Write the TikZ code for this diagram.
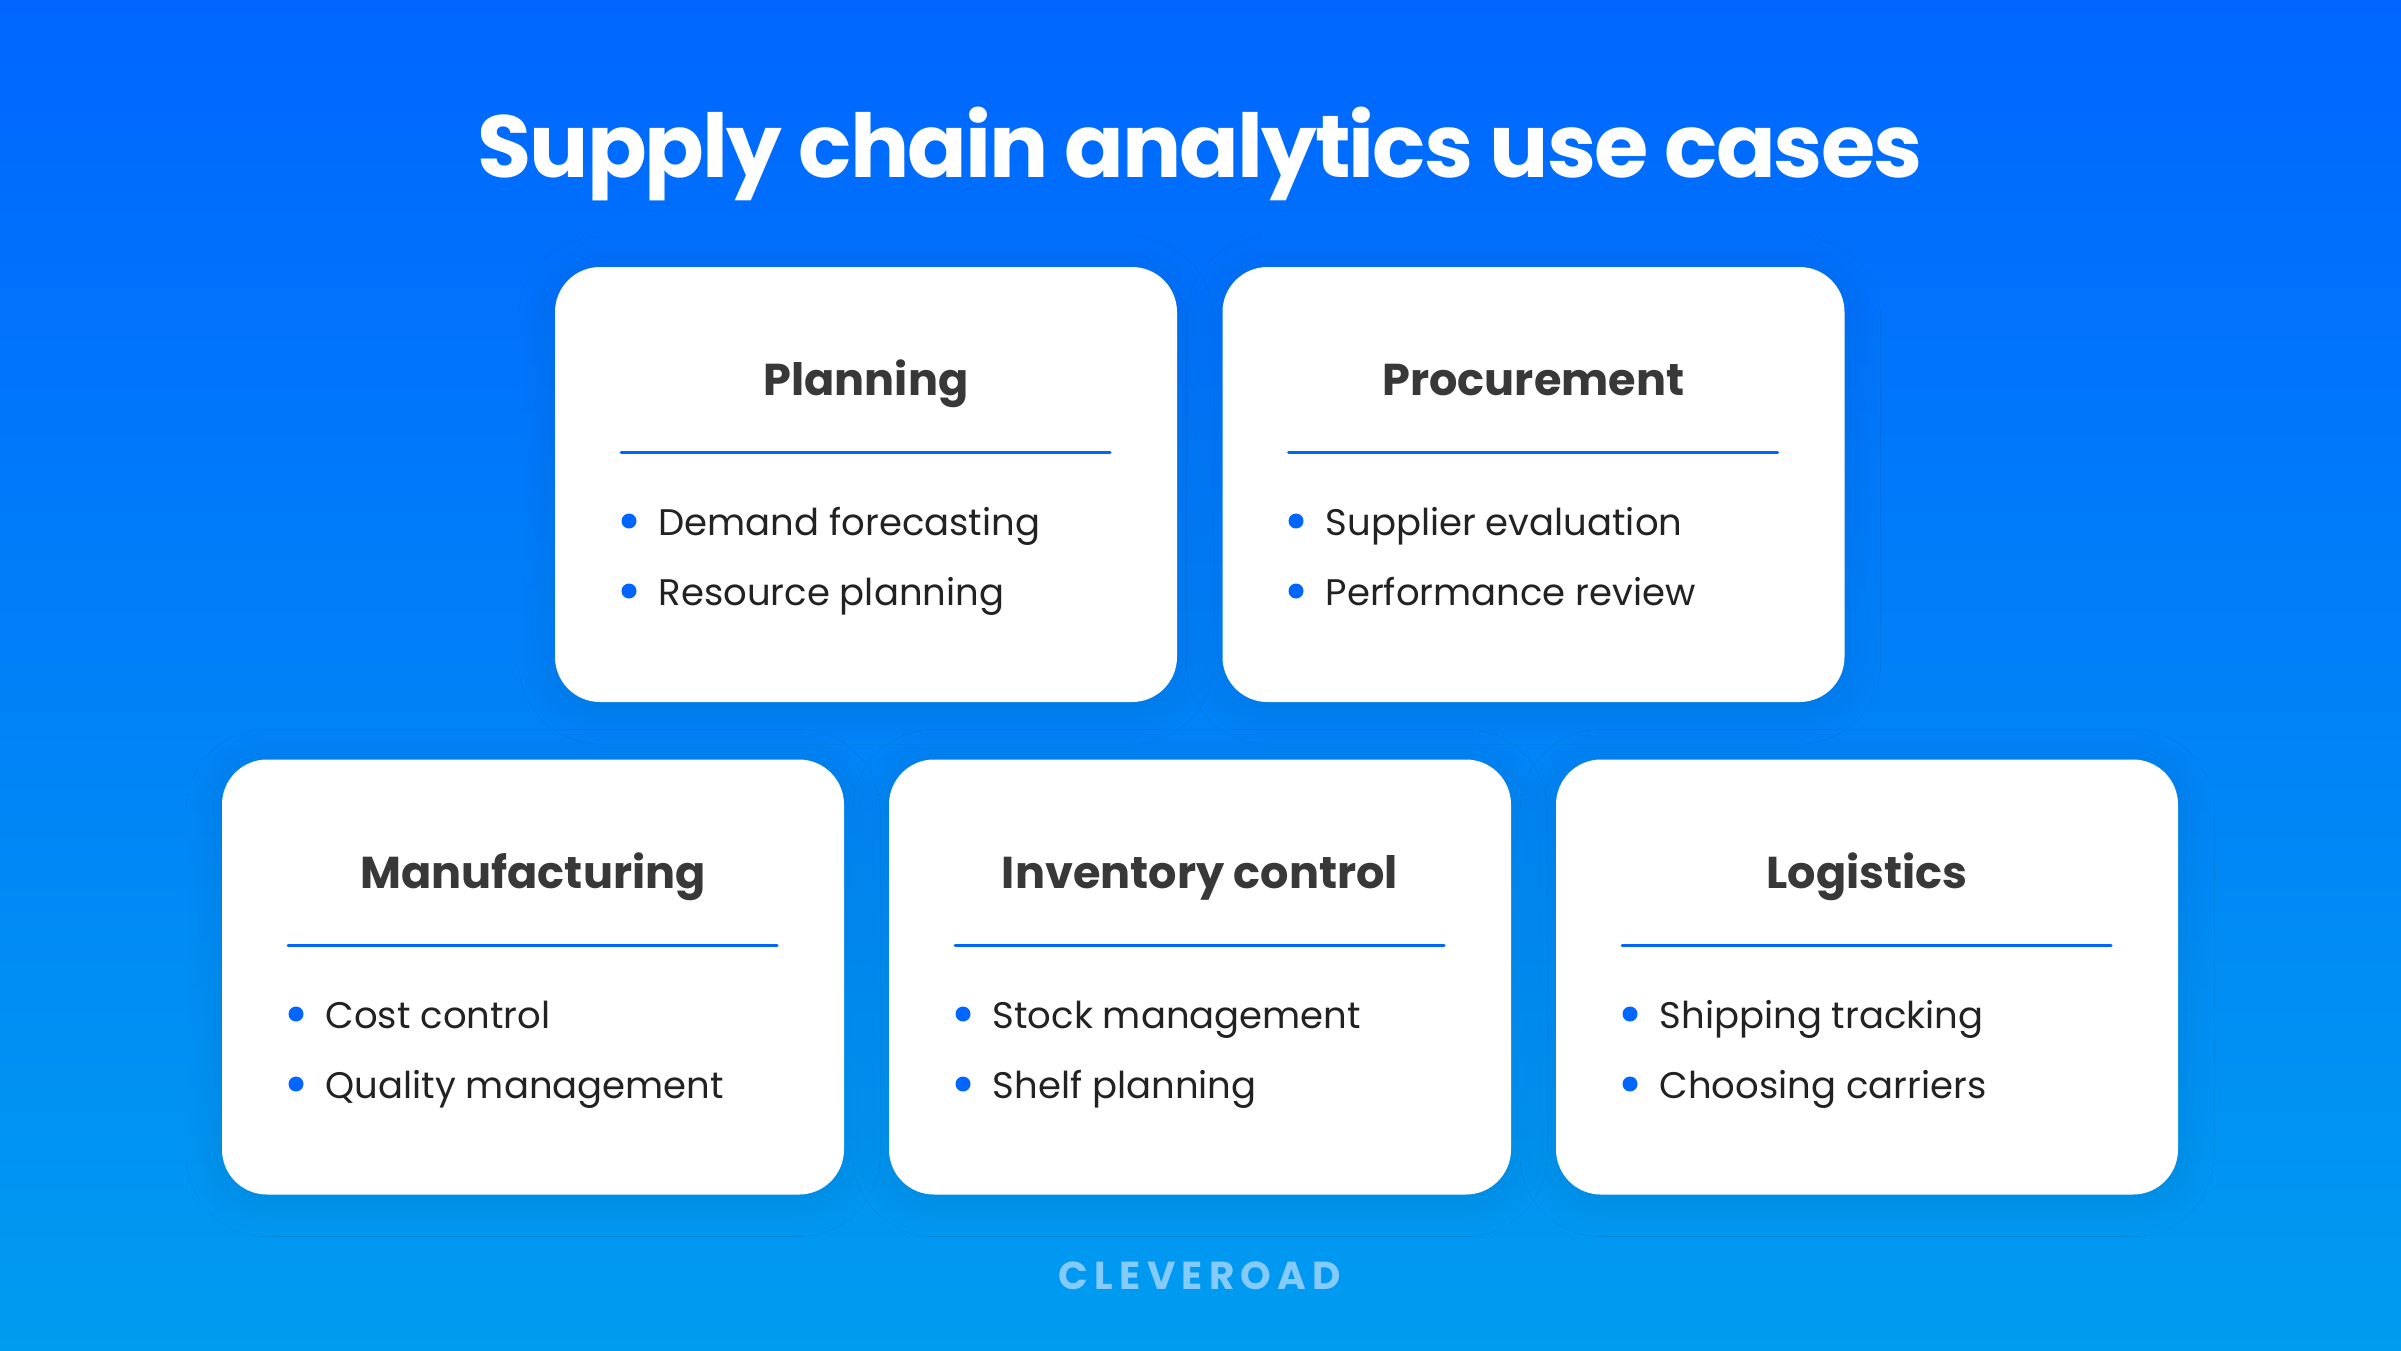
\documentclass[tikz,border=0pt]{standalone}
\usepackage{fontspec}
\setmainfont{Poppins}
\usetikzlibrary{shadows.blur}
\definecolor{topblue}{RGB}{0,102,255}
\definecolor{lowblue}{RGB}{0,156,240}
\definecolor{headgray}{RGB}{56,56,56}
\definecolor{itemgray}{RGB}{34,34,34}
\definecolor{logoblue}{RGB}{132,203,252}
\tikzset{
  cardbox/.style={shape=rectangle,rounded corners=45pt,fill=white,minimum width=622pt,minimum height=435pt,
    blur shadow={shadow xshift=0pt,shadow yshift=-6pt,shadow blur radius=36pt,shadow blur steps=12,shadow opacity=9}},
  cardhead/.style={anchor=base,inner sep=0pt,text=headgray,font=\fontsize{44.6}{50}\selectfont\bfseries},
  carditem/.style={anchor=base west,inner sep=0pt,text=itemgray,font=\fontsize{37}{42}\selectfont},
  itemdot/.style={shape=circle,fill=topblue,inner sep=0pt,minimum size=15pt},
  headrule/.style={draw=topblue,line width=3pt,line cap=round}
}
\begin{document}
\begin{tikzpicture}[x=1pt,y=-1pt]
   \useasboundingbox (0,0) rectangle (2401,1350);
   \shade[top color=topblue,bottom color=lowblue] (0,0) rectangle (2401,1350);
   \path (1200,177) node[anchor=base,inner sep=0pt,text=white,font=\addfontfeature{LetterSpace=-2.3}\fontsize{88}{96}\selectfont\bfseries] (title) {Supply chain analytics use cases};
   % upper row
   \path (866,484.5) node[cardbox] (plan) {};
   \path (866,395) node[cardhead] (planH) {Planning};
   \coordinate (planL) at (621,452);
   \coordinate (planR) at (1110,452);
   \draw[headrule] (planL) -- (planR);
   \path (629,521) node[itemdot] (planA) {};
   \path (658.5,535) node[carditem] (planAt) {Demand forecasting};
   \path (629,591) node[itemdot] (planB) {};
   \path (658.5,605) node[carditem] (planBt) {Resource planning};

   \path (1533.5,484.5) node[cardbox] (proc) {};
   \path (1533.5,395) node[cardhead] (procH) {Procurement};
   \coordinate (procL) at (1288.5,452);
   \coordinate (procR) at (1777.5,452);
   \draw[headrule] (procL) -- (procR);
   \path (1296,521) node[itemdot] (procA) {};
   \path (1325.5,535) node[carditem] (procAt) {Supplier evaluation};
   \path (1296,591) node[itemdot] (procB) {};
   \path (1325.5,605) node[carditem] (procBt) {Performance review};
   % lower row
   \path (533,977) node[cardbox] (manu) {};
   \path (533,888) node[cardhead] (manuH) {Manufacturing};
   \coordinate (manuL) at (288,945);
   \coordinate (manuR) at (777,945);
   \draw[headrule] (manuL) -- (manuR);
   \path (296,1014) node[itemdot] (manuA) {};
   \path (325.5,1028) node[carditem] (manuAt) {Cost control};
   \path (296,1084) node[itemdot] (manuB) {};
   \path (325.5,1098) node[carditem] (manuBt) {Quality management};

   \path (1200,977) node[cardbox] (inve) {};
   \path (1200,888) node[cardhead] (inveH) {Inventory control};
   \coordinate (inveL) at (955,945);
   \coordinate (inveR) at (1444,945);
   \draw[headrule] (inveL) -- (inveR);
   \path (963,1014) node[itemdot] (inveA) {};
   \path (992.5,1028) node[carditem] (inveAt) {Stock management};
   \path (963,1084) node[itemdot] (inveB) {};
   \path (992.5,1098) node[carditem] (inveBt) {Shelf planning};

   \path (1867,977) node[cardbox] (logi) {};
   \path (1867,888) node[cardhead] (logiH) {Logistics};
   \coordinate (logiL) at (1622,945);
   \coordinate (logiR) at (2111,945);
   \draw[headrule] (logiL) -- (logiR);
   \path (1630,1014) node[itemdot] (logiA) {};
   \path (1659.5,1028) node[carditem] (logiAt) {Shipping tracking};
   \path (1630,1084) node[itemdot] (logiB) {};
   \path (1659.5,1098) node[carditem] (logiBt) {Choosing carriers};

   \path (1200,1289) node[anchor=base,inner sep=0pt,text=logoblue,font=\addfontfeature{LetterSpace=16}\fontsize{39}{44}\selectfont\bfseries] (logo) {CLEVEROAD};
\end{tikzpicture}
\end{document}
